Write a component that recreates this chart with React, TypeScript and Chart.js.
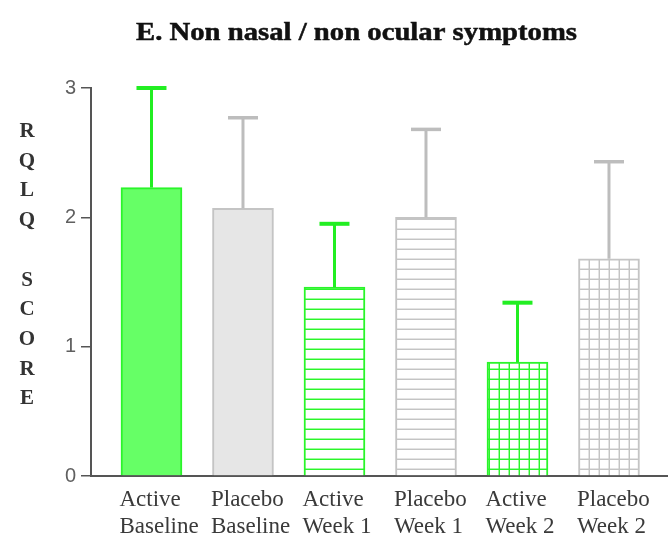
import { useEffect, useRef } from 'react';
import { Chart, registerables } from 'chart.js';

Chart.register(...registerables);

// Treatment groups along the x axis (two-line labels)
const categories: string[][] = [
  ['Active', 'Baseline'],
  ['Placebo', 'Baseline'],
  ['Active', 'Week 1'],
  ['Placebo', 'Week 1'],
  ['Active', 'Week 2'],
  ['Placebo', 'Week 2'],
];

// Mean RQLQ score per group and its upper error (SD)
const meanScores = [2.23, 2.07, 1.46, 2.0, 0.88, 1.68];
const sdScores = [0.77, 0.7, 0.49, 0.68, 0.46, 0.75];

// Which arm each bar belongs to and how it is filled
const arms = ['active', 'placebo', 'active', 'placebo', 'active', 'placebo'];
const fills = ['solid', 'solid', 'lines', 'lines', 'grid', 'grid'];

const yTicks = [0, 1, 2, 3];
const chartTitle = 'E. Non nasal / non ocular symptoms';
const yAxisLetters = ['R', 'Q', 'L', 'Q', '', 'S', 'C', 'O', 'R', 'E'];

const GREEN_FILL = '#66ff66';
const GREEN_LINE = '#2af52a';
const GREY_FILL = '#e6e6e6';
const GREY_LINE = '#c4c4c4';

// 10px hatch tile: a soft 2px rule along the bottom (and right edge for the grid)
function makePattern(ctx: CanvasRenderingContext2D, color: string, kind: string): CanvasPattern | string {
  const tile = document.createElement('canvas');
  tile.width = 10;
  tile.height = 10;
  const g = tile.getContext('2d');
  if (!g) return '#ffffff';
  g.fillStyle = '#ffffff';
  g.fillRect(0, 0, 10, 10);
  g.fillStyle = color;
  g.globalAlpha = 0.45;
  g.fillRect(0, 8, 10, 1);
  if (kind === 'grid') g.fillRect(8, 0, 1, 10);
  g.globalAlpha = 1;
  g.fillRect(0, 9, 10, 1);
  if (kind === 'grid') g.fillRect(9, 0, 1, 10);
  return ctx.createPattern(tile, 'repeat') || '#ffffff';
}

const errorBarsPlugin = {
  id: 'errorBars',
  afterDatasetsDraw(chart: any) {
    const { ctx } = chart;
    const meta = chart.getDatasetMeta(0);
    const yScale = chart.scales.y;
    meta.data.forEach((bar: any, i: number) => {
      const x = bar.x;
      const yTop = yScale.getPixelForValue(meanScores[i] + sdScores[i]);
      const yBase = yScale.getPixelForValue(meanScores[i]);
      ctx.save();
      ctx.strokeStyle = arms[i] === 'active' ? '#22ee22' : '#bdbdbd';
      ctx.lineWidth = 3;
      ctx.beginPath();
      ctx.moveTo(x, yBase);
      ctx.lineTo(x, yTop);
      ctx.stroke();
      ctx.lineWidth = arms[i] === 'active' ? 4 : 3.5;
      ctx.beginPath();
      ctx.moveTo(x - 15, yTop);
      ctx.lineTo(x + 15, yTop);
      ctx.stroke();
      ctx.restore();
    });
  },
};

const textPlugin = {
  id: 'titleAndAxisName',
  afterDraw(chart: any) {
    const { ctx } = chart;
    ctx.save();
    // main heading, slightly widened heavy serif
    ctx.font = 'bold 26px "Liberation Serif"';
    ctx.fillStyle = '#111111';
    ctx.strokeStyle = '#111111';
    ctx.lineWidth = 0.5;
    ctx.textBaseline = 'alphabetic';
    ctx.textAlign = 'center';
    const w = ctx.measureText(chartTitle).width;
    ctx.translate(356.5, 40);
    ctx.scale(441 / w, 1);
    ctx.fillText(chartTitle, 0, 0);
    ctx.strokeText(chartTitle, 0, 0);
    ctx.restore();

    // stacked y-axis name
    ctx.save();
    ctx.font = 'bold 21px "Liberation Serif"';
    ctx.fillStyle = '#333333';
    ctx.textAlign = 'center';
    ctx.textBaseline = 'alphabetic';
    yAxisLetters.forEach((ch, i) => {
      if (ch) ctx.fillText(ch, 27, 137 + i * 29.7);
    });
    ctx.restore();
  },
};

export default function App() {
  const canvasRef = useRef<HTMLCanvasElement | null>(null);

  useEffect(() => {
    const canvas = canvasRef.current;
    if (!canvas) return;
    const ctx = canvas.getContext('2d');
    if (!ctx) return;

    const background = fills.map((f, i) => {
      const active = arms[i] === 'active';
      if (f === 'solid') return active ? GREEN_FILL : GREY_FILL;
      return makePattern(ctx, active ? GREEN_LINE : GREY_LINE, f);
    });
    const borders = arms.map((a) => (a === 'active' ? GREEN_LINE : GREY_LINE));

    const chart = new Chart(ctx, {
      type: 'bar',
      data: {
        datasets: [
          {
            data: meanScores.map((v, i) => ({ x: i, y: v })),
            backgroundColor: background as any,
            borderColor: borders,
            borderWidth: 2,
            barThickness: 61,
          },
        ],
      },
      options: {
        responsive: false,
        animation: false,
        layout: { padding: { top: 88, left: 0, right: 0, bottom: 0 } },
        plugins: {
          legend: { display: false },
          title: { display: false },
          tooltip: { enabled: false },
        },
        scales: {
          x: {
            type: 'linear',
            offset: false,
            min: -0.661,
            max: 5.645,
            grid: { display: false, drawTicks: false },
            border: { display: true, color: '#555555', width: 2 },
            afterBuildTicks: (scale: any) => {
              scale.ticks = categories.map((_, i) => ({ value: i }));
            },
            afterFit: (scale: any) => {
              scale.height = 62;
              scale.paddingLeft = 0;
              scale.paddingRight = 0;
            },
            ticks: {
              autoSkip: false,
              maxRotation: 0,
              align: 'start',
              labelOffset: -32,
              padding: 10,
              color: '#3a3a3a',
              font: { family: "'Liberation Serif', serif", size: 23, lineHeight: 1.2 },
              callback: (value: any) => {
                const i = Math.round(Number(value));
                return categories[i] || '';
              },
            },
          },
          y: {
            min: 0,
            max: 3,
            grid: {
              drawOnChartArea: false,
              drawTicks: true,
              tickLength: 10,
              color: '#555555',
              lineWidth: 1.5,
            },
            border: { display: true, color: '#555555', width: 2 },
            afterBuildTicks: (scale: any) => {
              scale.ticks = yTicks.map((v) => ({ value: v }));
            },
            afterFit: (scale: any) => {
              scale.width = 91;
            },
            ticks: {
              padding: 5,
              color: '#606060',
              font: { family: "'Liberation Sans', sans-serif", size: 20 },
            },
          },
        },
      },
      plugins: [errorBarsPlugin, textPlugin],
    } as any);

    return () => chart.destroy();
  }, []);

  return (
    <div style={{ position: 'fixed', left: 0, top: 0, width: 668, height: 538, background: '#ffffff' }}>
      <canvas ref={canvasRef} width={668} height={538} />
    </div>
  );
}
